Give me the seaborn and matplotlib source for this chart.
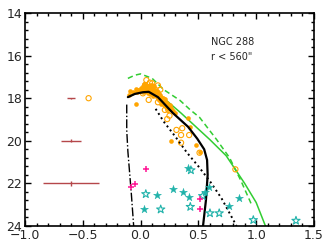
import matplotlib
matplotlib.use("Agg")
import matplotlib.pyplot as plt
import seaborn as sns
from matplotlib.ticker import MultipleLocator

# ---- data ----
iso_solid_x = [-0.11, -0.05, 0.02, 0.07, 0.15, 0.28, 0.41, 0.49, 0.55, 0.575, 0.58, 0.565, 0.54]
iso_solid_y = [17.95, 17.80, 17.72, 17.70, 17.95, 18.70, 19.34, 19.90, 20.40, 20.90, 21.60, 22.80, 24.0]

iso_dashdot_x = [-0.12, -0.12, -0.11, -0.095, -0.08, -0.06]
iso_dashdot_y = [18.30, 19.50, 20.50, 21.50, 22.50, 24.0]

iso_dot_x = [0.13, 0.20, 0.30, 0.40, 0.50, 0.60, 0.70, 0.83]
iso_dot_y = [18.50, 19.10, 19.80, 20.55, 21.20, 21.90, 22.70, 24.0]

green_solid_x = [-0.10, -0.02, 0.08, 0.20, 0.35, 0.47, 0.60, 0.74, 0.90, 1.00, 1.08]
green_solid_y = [17.93, 17.72, 17.65, 18.00, 18.70, 19.30, 19.95, 20.70, 22.00, 22.90, 24.0]

green_dash_x = [-0.11, -0.05, 0.00, 0.10, 0.20, 0.34, 0.43, 0.51, 0.66, 0.77, 0.87, 0.96]
green_dash_y = [17.07, 16.92, 16.86, 17.07, 17.60, 18.10, 18.55, 18.90, 19.96, 20.80, 21.90, 23.00]

filled_x = [-0.10, -0.04, -0.04, -0.03, -0.01, 0.00, 0.01, 0.02, 0.02, 0.03, 0.04, 0.04, 0.05, 0.05,
            0.06, 0.06, 0.07, 0.07, 0.08, 0.08, 0.09, 0.09, 0.10, 0.10, 0.11, 0.11, 0.12, 0.12,
            0.13, 0.13, 0.14, 0.14, 0.15, 0.15, 0.16, 0.16, 0.17, 0.18, 0.18, 0.19, 0.20, 0.21,
            0.22, 0.23, 0.24, 0.26, 0.28, 0.41, 0.43, 0.26, 0.48, 0.51, 0.03, 0.08, 0.12,
            0.00, 0.02, 0.05, 0.07, 0.09, 0.11, 0.13, 0.15, 0.17, 0.19, 0.21, 0.23, 0.25,
            -0.02, 0.01, 0.04, 0.06, 0.10, 0.14, 0.16, 0.18, 0.20, 0.22, 0.27, 0.30, 0.06, 0.10,
            -0.09, -0.07]
filled_y = [17.85, 18.27, 17.55, 17.70, 17.62, 17.50, 17.58, 17.45, 17.72, 17.60, 17.52, 17.68, 17.40,
            17.62, 17.55, 17.75, 17.48, 17.66, 17.58, 17.80, 17.62, 17.72, 17.52, 17.82, 17.68,
            17.90, 17.60, 17.78, 17.85, 17.70, 17.95, 17.80, 18.00, 17.88, 18.10, 17.95, 18.05,
            18.15, 18.25, 18.10, 18.30, 18.20, 18.40, 18.35, 18.50, 18.45, 18.60, 18.95, 19.34,
            20.00, 20.20, 20.51, 17.35, 17.40, 17.45,
            17.68, 17.55, 17.50, 17.58, 17.48, 17.55, 17.62, 17.72, 17.85, 17.98, 18.05, 18.22, 18.30,
            17.62, 17.66, 17.60, 17.70, 17.64, 17.68, 17.82, 17.95, 18.12, 18.28, 18.55, 18.70, 17.42, 17.36,
            17.65, 17.72]

open_x = [-0.45, 0.05, 0.08, 0.04, 0.02, 0.07, 0.15, 0.20, 0.21, 0.24, 0.23, 0.25, 0.31, 0.36,
          0.35, 0.42, 0.35, 0.51, 0.82, 0.10, 0.15, 0.17]
open_y = [18.00, 17.15, 17.27, 17.38, 17.77, 18.08, 18.19, 18.08, 18.55, 18.55, 18.98, 18.82, 19.49,
          19.41, 19.73, 19.73, 20.09, 20.56, 21.34, 17.30, 17.40, 17.60]

star_f_x = [0.41, 0.03, 0.14, 0.28, 0.365, 0.415, 0.595, 0.56, 0.767, 0.85]
star_f_y = [21.26, 23.22, 22.56, 22.28, 22.40, 22.65, 22.15, 22.39, 23.07, 22.70]

star_o_x = [0.435, 0.045, 0.174, 0.43, 0.537, 0.60, 0.68, 0.975, 1.344]
star_o_y = [21.38, 22.50, 23.22, 23.10, 22.59, 23.40, 23.40, 23.72, 23.75]

cross_x = [0.045, -0.045, -0.085, 0.51, 0.51]
cross_y = [21.33, 22.04, 22.15, 22.73, 23.20]

err_x = [-0.60, -0.60, -0.60]
err_y = [18.0, 20.0, 22.0]
err_xe = [0.035, 0.085, 0.24]
err_ye = [0.02, 0.07, 0.12]

xticks = [-1.0, -0.5, 0.0, 0.5, 1.0, 1.5]
yticks = [14, 16, 18, 20, 22, 24]

label_cluster = "NGC 288"
label_radius = "r < 560\""

# ---- plot ----
sns.set_style("ticks")
plt.rcParams['font.family'] = ['DejaVu Sans']
fig = plt.figure(figsize=(3.32, 2.49), dpi=100)
ax = fig.add_axes([0.0753, 0.0924, 0.8705, 0.8554])

ORANGE = "#ffa500"
TEAL = "#20b2aa"
PINK = "#ff1493"
GREEN = "#32cd32"
ERR = "#b5474a"

sns.lineplot(x=green_dash_x, y=green_dash_y, sort=False, estimator=None, ax=ax,
             color=GREEN, lw=1.1, linestyle=(0, (3.5, 2.2)))
sns.lineplot(x=green_solid_x, y=green_solid_y, sort=False, estimator=None, ax=ax,
             color=GREEN, lw=1.1)

sns.scatterplot(x=filled_x, y=filled_y, ax=ax, color=ORANGE, s=11, linewidth=0, zorder=3)
sns.scatterplot(x=open_x, y=open_y, ax=ax, marker="o", s=14, facecolors="none",
                edgecolor=ORANGE, linewidth=0.8, zorder=3)

sns.lineplot(x=iso_solid_x, y=iso_solid_y, sort=False, estimator=None, ax=ax,
             color="black", lw=1.6, zorder=4)
sns.lineplot(x=iso_dashdot_x, y=iso_dashdot_y, sort=False, estimator=None, ax=ax,
             color="black", lw=1.0, linestyle="-.", zorder=4)
sns.lineplot(x=iso_dot_x, y=iso_dot_y, sort=False, estimator=None, ax=ax,
             color="black", lw=1.4, linestyle=(0, (1, 1.6)), zorder=4)

sns.scatterplot(x=star_f_x, y=star_f_y, ax=ax, marker="*", s=36, color=TEAL, linewidth=0.3,
                edgecolor=TEAL, zorder=5)
sns.scatterplot(x=star_o_x, y=star_o_y, ax=ax, marker="*", s=38, facecolors="none",
                edgecolor=TEAL, linewidth=0.8, zorder=5)
sns.scatterplot(x=cross_x, y=cross_y, ax=ax, marker="+", s=24, color=PINK, linewidth=1.1, zorder=5)

ax.errorbar(err_x, err_y, xerr=err_xe, yerr=err_ye, fmt="none", ecolor=ERR, elinewidth=1.0,
            capsize=0)

ax.text(0.61, 15.36, label_cluster, fontsize=7, ha="left", va="center")
ax.text(0.61, 16.08, label_radius, fontsize=7, ha="left", va="center")

ax.set_xlim(-1.0, 1.5)
ax.set_ylim(24, 14)
ax.set_xticks(xticks)
ax.set_yticks(yticks)
ax.xaxis.set_minor_locator(MultipleLocator(0.1))
ax.yaxis.set_minor_locator(MultipleLocator(0.4))
ax.tick_params(which="both", direction="in", top=True, right=True, labelsize=9, width=1.0,
               color="black", pad=2)
ax.tick_params(which="major", length=4)
ax.tick_params(which="minor", length=2.2)
for sp in ax.spines.values():
    sp.set_linewidth(1.2)
    sp.set_color("black")
ax.set_xlabel("")
ax.set_ylabel("")

fig.savefig("out.png", dpi=100)
